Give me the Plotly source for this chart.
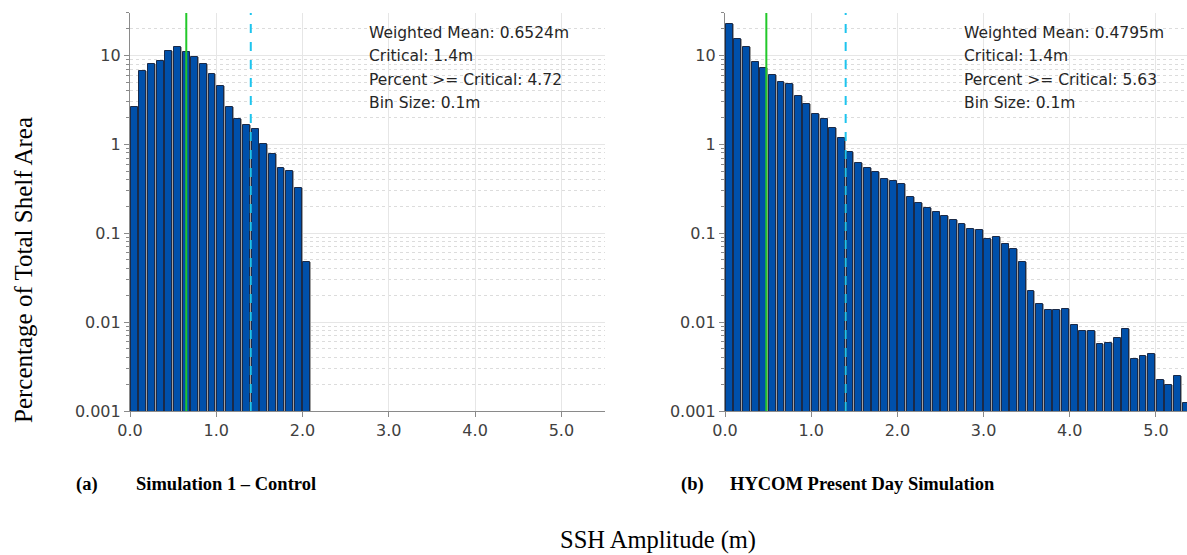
import plotly.graph_objects as go

bin_size = 0.1
left_vals = [2.65, 6.7, 8.05, 8.6, 11.1, 12.4, 11.0, 9.5, 8.0, 6.2, 4.56, 2.6, 1.91,
             1.65, 1.49, 1.0, 0.77, 0.54, 0.50, 0.32, 0.048]
right_vals = [22.7, 15.1, 12.3, 8.4, 7.3, 6.0, 4.97, 4.72, 3.52, 2.83, 2.19, 1.94, 1.52,
              1.17, 0.82, 0.62, 0.544, 0.487, 0.41, 0.39, 0.357, 0.253, 0.216, 0.193,
              0.174, 0.158, 0.140, 0.126, 0.112, 0.108, 0.085, 0.090, 0.075, 0.067,
              0.048, 0.0223, 0.016, 0.0136, 0.0138, 0.0140, 0.00925, 0.0079, 0.0079,
              0.0056, 0.00585, 0.0066, 0.0084, 0.00387, 0.0042, 0.00436, 0.00221,
              0.00195, 0.00245, 0.00123]
left_mean = 0.6524
right_mean = 0.4795
critical = 1.4
left_text = ["Weighted Mean: 0.6524m", "Critical: 1.4m", "Percent >= Critical: 4.72", "Bin Size: 0.1m"]
right_text = ["Weighted Mean: 0.4795m", "Critical: 1.4m", "Percent >= Critical: 5.63", "Bin Size: 0.1m"]
ytick_vals = [0.001, 0.01, 0.1, 1, 10]
ytick_text = ["0.001", "0.01", "0.1", "1", "10"]
yminor_vals = [m * d for d in [0.001, 0.01, 0.1, 1, 10] for m in range(2, 10) if m * d <= 30]
xtick_vals = [0, 1, 2, 3, 4, 5]
xtick_text = ["0.0", "1.0", "2.0", "3.0", "4.0", "5.0"]

W, H = 1187, 555
def px(x):
    return x / W
def py(y):
    return 1 - y / H

fig = go.Figure()
BLUE = "#0050aa"
for vals, xa, ya in [(left_vals, "x", "y"), (right_vals, "x2", "y2")]:
    centers = [bin_size * (i + 0.5) for i in range(len(vals))]
    fig.add_trace(go.Bar(x=centers, y=vals, width=bin_size, marker=dict(color="#a0a0a0", line=dict(width=0)),
                         xaxis=xa, yaxis=ya, showlegend=False, hoverinfo="skip"))
    fig.add_trace(go.Bar(x=centers, y=vals, width=bin_size * 0.8,
                         marker=dict(color=BLUE, line=dict(color="#1a2a48", width=1)),
                         xaxis=xa, yaxis=ya, showlegend=False))

ydom = [py(411), py(13)]
axis_common = dict(showline=True, linecolor="#8a8a8a", linewidth=1.2, ticks="outside", ticklen=5,
                   tickcolor="#8a8a8a", tickfont=dict(family="DejaVu Sans", size=16, color="#404040"),
                   gridcolor="#e6e6e6", gridwidth=1, zeroline=False, mirror=False, automargin=False)
yaxis_common = dict(axis_common, type="log", range=[-3, 1.477], tickvals=ytick_vals, ticktext=ytick_text,
                    minor=dict(tickvals=yminor_vals, ticks="outside", ticklen=3, tickcolor="#8a8a8a",
                               showgrid=True, gridcolor="#dcdcdc", griddash="dot", gridwidth=1))
fig.update_layout(
    width=W, height=H, margin=dict(l=0, r=0, t=0, b=0, autoexpand=False),
    paper_bgcolor="white", plot_bgcolor="white", barmode="overlay", bargap=0,
    xaxis=dict(axis_common, domain=[px(130), px(604.5)], range=[0, 5.5], tickvals=xtick_vals, ticktext=xtick_text),
    yaxis=dict(yaxis_common, domain=ydom, anchor="x"),
    xaxis2=dict(axis_common, domain=[px(725), 1.0], range=[0, 5.36], tickvals=xtick_vals, ticktext=xtick_text, anchor="y2"),
    yaxis2=dict(yaxis_common, domain=ydom, anchor="x2"),
)

shapes = []
for xr, yr, mean in [("x", "y", left_mean), ("x2", "y2", right_mean)]:
    shapes.append(dict(type="line", xref=xr, yref=yr + " domain", x0=mean, x1=mean, y0=0, y1=1,
                       line=dict(color="#22c82a", width=2)))
    shapes.append(dict(type="line", xref=xr, yref=yr + " domain", x0=critical, x1=critical, y0=0, y1=1,
                       line=dict(color="#1ec4ee", width=2, dash="dash")))
fig.update_layout(shapes=shapes)

ann = []
line_ys = [33, 56.5, 80, 103.5]
for x0, texts in [(368, left_text), (963, right_text)]:
    for t, yy in zip(texts, line_ys):
        ann.append(dict(text=t, x=px(x0 - 1.5), y=py(yy), xref="paper", yref="paper", xanchor="left", yanchor="middle",
                        showarrow=False, font=dict(family="DejaVu Sans", size=15.5, color="#262626")))
serif = "Liberation Serif"
ann.append(dict(text="Percentage of Total Shelf Area", x=px(23), y=py(270), xref="paper", yref="paper",
                xanchor="center", yanchor="middle",
                textangle=-90, showarrow=False, font=dict(family=serif, size=25, color="black")))
ann.append(dict(text="SSH Amplitude (m)", x=px(658), y=py(540), xref="paper", yref="paper",
                xanchor="center", yanchor="middle",
                showarrow=False, font=dict(family=serif, size=24.5, color="black")))
for x0, t in [(76, "<b>(a)</b>"), (135, "<b>Simulation 1 – Control</b>"), (680, "<b>(b)</b>"),
              (729, "<b>HYCOM Present Day Simulation</b>")]:
    ann.append(dict(text=t, x=px(x0 - 1.5), y=py(484), xref="paper", yref="paper", xanchor="left", yanchor="middle",
                    showarrow=False, font=dict(family=serif, size=18.5, color="black")))
fig.update_layout(annotations=ann)

fig.write_html("out.html")
